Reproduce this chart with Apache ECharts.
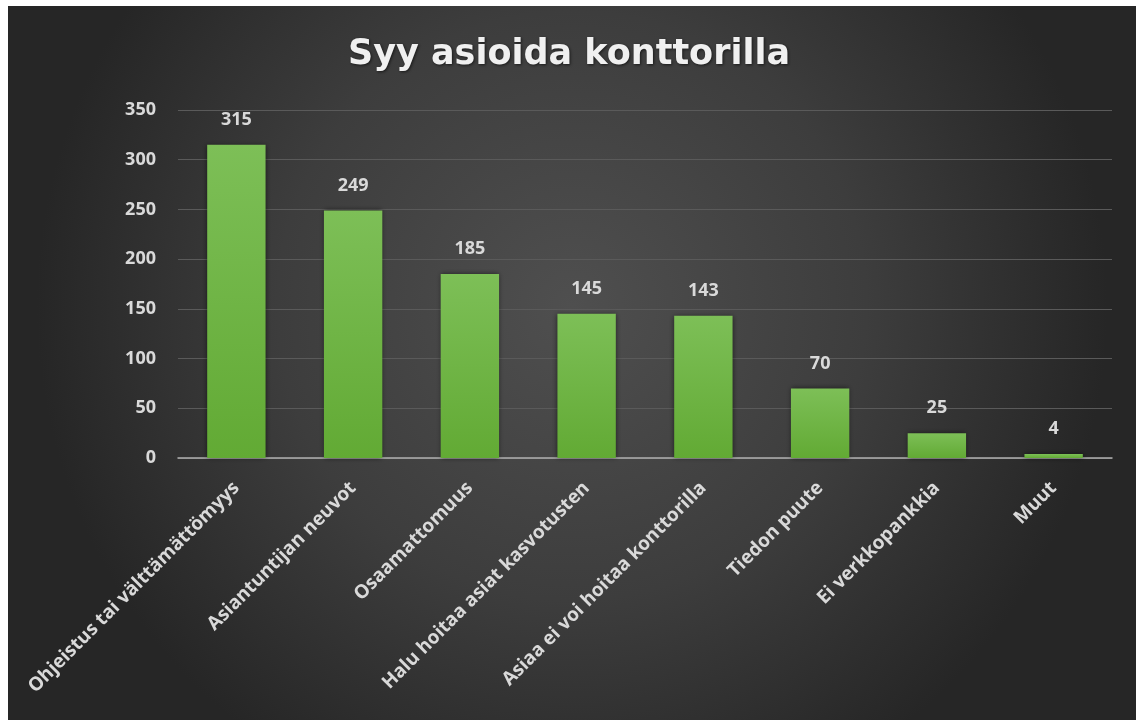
<!DOCTYPE html>
<html>
<head>
<meta charset="utf-8">
<script src="https://cdn.jsdelivr.net/npm/echarts@6/dist/echarts.min.js"></script>
<style>
  html, body { margin: 0; padding: 0; background: #ffffff; }
  #chart { width: 1138px; height: 720px; }
</style>
</head>
<body>
<div id="chart"></div>
<script>
// Reasons for visiting the bank branch
const categories = [
  'Ohjeistus tai välttämättömyys',
  'Asiantuntijan neuvot',
  'Osaamattomuus',
  'Halu hoitaa asiat kasvotusten',
  'Asiaa ei voi hoitaa konttorilla',
  'Tiedon puute',
  'Ei verkkopankkia',
  'Muut'
];
const counts = [315, 249, 185, 145, 143, 70, 25, 4];
const yTicks = { min: 0, max: 350, interval: 50 };

const textColor = '#d9d9d9';
const labelFont = '"Open Sans", "DejaVu Sans", sans-serif';
const titleFont = '"DejaVu Sans", "Open Sans", sans-serif';

const chart = echarts.init(document.getElementById('chart'), null, { renderer: 'canvas' });

chart.setOption({
  backgroundColor: '#ffffff',
  animation: false,
  graphic: [{
    type: 'rect',
    left: 8,
    top: 6,
    z: -10,
    shape: { width: 1128, height: 714 },
    style: {
      fill: {
        type: 'radial',
        x: 0.5, y: 0.42, r: 0.75,
        colorStops: [
          { offset: 0, color: '#4f4f4f' },
          { offset: 0.55, color: '#3d3d3d' },
          { offset: 1, color: '#262626' }
        ]
      }
    }
  }],
  title: {
    text: 'Syy asioida konttorilla',
    left: 'center',
    top: 32,
    textStyle: {
      color: '#f0f0f0',
      fontFamily: titleFont,
      fontSize: 35,
      fontWeight: 'bold',
      textShadowColor: 'rgba(0,0,0,0.6)',
      textShadowBlur: 3,
      textShadowOffsetX: 1,
      textShadowOffsetY: 1
    }
  },
  grid: { left: 178, right: 26, top: 110, bottom: 262 },
  xAxis: {
    type: 'category',
    data: categories,
    axisLine: { show: true, lineStyle: { color: '#b0b0b0', width: 1.5 } },
    axisTick: { show: false },
    axisLabel: {
      rotate: 45,
      interval: 0,
      margin: 27,
      color: textColor,
      fontFamily: labelFont,
      fontSize: 19,
      fontWeight: 'bold'
    }
  },
  yAxis: {
    type: 'value',
    min: yTicks.min,
    max: yTicks.max,
    interval: yTicks.interval,
    axisLine: { show: false },
    axisTick: { show: false },
    splitLine: { lineStyle: { color: '#5a5a5a', width: 1 } },
    axisLabel: {
      margin: 22,
      color: textColor,
      fontFamily: labelFont,
      fontSize: 18,
      fontWeight: 'bold'
    }
  },
  series: [{
    type: 'bar',
    data: counts,
    barWidth: '50%',
    itemStyle: {
      color: {
        type: 'linear', x: 0, y: 0, x2: 0, y2: 1,
        colorStops: [
          { offset: 0, color: '#7dbf57' },
          { offset: 1, color: '#62aa34' }
        ]
      },
      shadowColor: 'rgba(0,0,0,0.55)',
      shadowBlur: 5
    },
    label: {
      show: true,
      position: 'top',
      distance: 16,
      color: textColor,
      fontFamily: labelFont,
      fontSize: 18,
      fontWeight: 'bold'
    }
  }]
});
</script>
</body>
</html>
